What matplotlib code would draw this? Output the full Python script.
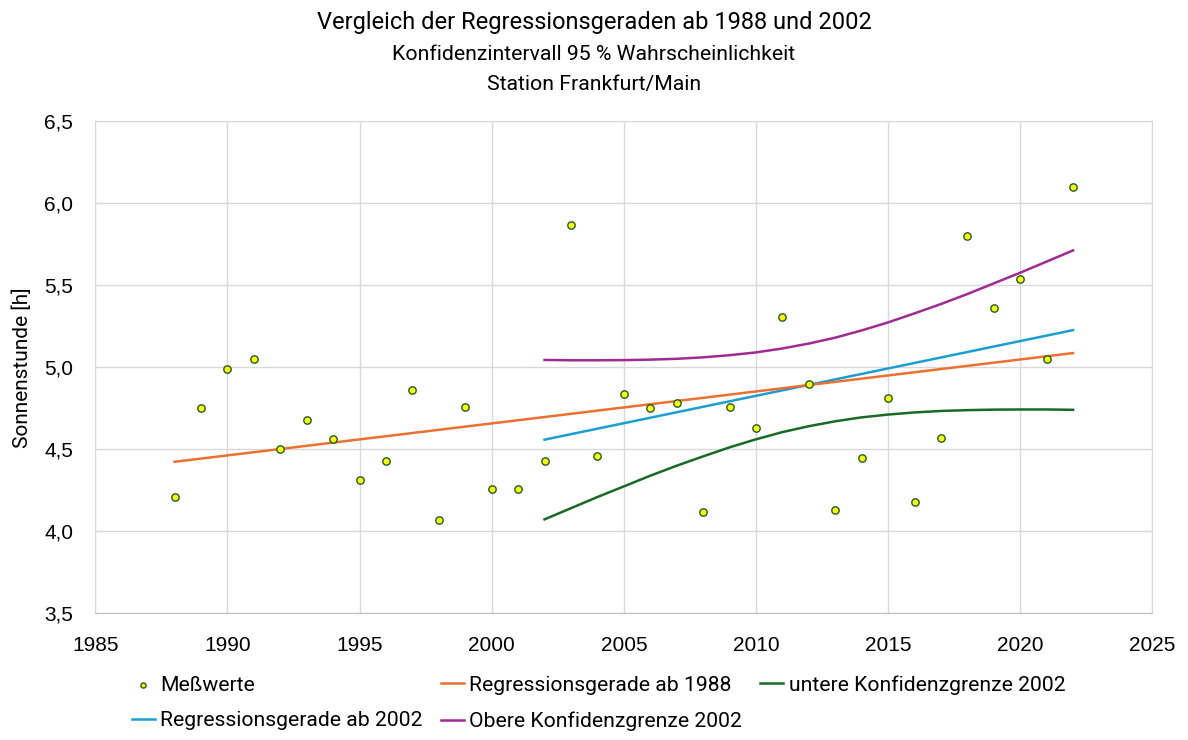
import matplotlib.pyplot as plt

# Messwerte Sonnenstunden Frankfurt/Main
jahre = list(range(1988, 2023))
messwerte = [4.21, 4.75, 4.99, 5.05, 4.50, 4.68, 4.56, 4.31, 4.43, 4.86,
             4.07, 4.76, 4.26, 4.26, 4.43, 5.87, 4.46, 4.84, 4.75, 4.78,
             4.12, 4.76, 4.63, 5.31, 4.90, 4.13, 4.45, 4.81, 4.18, 4.57,
             5.80, 5.36, 5.54, 5.05, 6.10]

# Regressionsgeraden (Endpunkte)
reg1988_x = [1988, 2022]
reg1988_y = [4.424, 5.087]
reg2002_x = [2002, 2022]
reg2002_y = [4.559, 5.227]

# Konfidenzgrenzen ab 2002
konf_jahre = list(range(2002, 2023))
obere = [5.045, 5.043, 5.043, 5.044, 5.047, 5.052, 5.061, 5.074, 5.091, 5.115,
         5.145, 5.181, 5.225, 5.274, 5.329, 5.386, 5.447, 5.512, 5.577, 5.645, 5.713]
untere = [4.073, 4.141, 4.209, 4.274, 4.339, 4.400, 4.457, 4.512, 4.561, 4.605,
          4.641, 4.671, 4.695, 4.712, 4.725, 4.734, 4.739, 4.742, 4.743, 4.743, 4.741]

titel_font = 'Roboto'
tick_font = 'Liberation Sans'

fig = plt.figure(figsize=(11.88, 7.4), dpi=100)
ax = fig.add_axes([0.0802, 0.1712, 0.8898, 0.6648])

ax.scatter(jahre, messwerte, s=28, color='#ffff00', edgecolors='#1f5a2a',
           linewidths=1.0, zorder=5, label='Meßwerte')
ax.plot(reg2002_x, reg2002_y, color='#1a9fd0', lw=1.8, label='Regressionsgerade ab 2002')
ax.plot(reg1988_x, reg1988_y, color='#e97132', lw=1.8, label='Regressionsgerade ab 1988')
ax.plot(konf_jahre, obere, color='#a02b93', lw=1.8, label='Obere Konfidenzgrenze 2002')
ax.plot(konf_jahre, untere, color='#196b24', lw=1.8, label='untere Konfidenzgrenze 2002')

ax.set_xlim(1985, 2025)
ax.set_ylim(3.5, 6.5)
ax.set_xticks(range(1985, 2026, 5))
ax.set_yticks([3.5, 4.0, 4.5, 5.0, 5.5, 6.0, 6.5])
ax.set_yticklabels([f'{v:.1f}'.replace('.', ',') for v in [3.5, 4.0, 4.5, 5.0, 5.5, 6.0, 6.5]])
ax.grid(True, color='#d9d9d9', lw=1.0)
ax.set_axisbelow(True)
for s in ax.spines.values():
    s.set_color('#d9d9d9')
ax.spines['bottom'].set_color('#bfbfbf')
ax.tick_params(length=0, pad=16, labelsize=15)
for lab in ax.get_xticklabels() + ax.get_yticklabels():
    lab.set_fontfamily(tick_font)

ax.set_ylabel('Sonnenstunde [h]', fontsize=15, family=titel_font, labelpad=9)

fig.text(0.5, 0.970, 'Vergleich der Regressionsgeraden ab 1988 und 2002',
         ha='center', va='center', fontsize=17, family=titel_font)
fig.text(0.5, 0.926, 'Konfidenzintervall 95 % Wahrscheinlichkeit',
         ha='center', va='center', fontsize=15.3, family=titel_font)
fig.text(0.5, 0.886, 'Station Frankfurt/Main',
         ha='center', va='center', fontsize=15.3, family=titel_font)

fig.legend(loc='upper left', bbox_to_anchor=(0.111, 1 - 675 / 740), ncol=3,
           frameon=False, borderpad=0, borderaxespad=0, handlelength=1.1,
           handletextpad=0.25, columnspacing=0.85, labelspacing=0.8,
           prop={'family': titel_font, 'size': 15.2}, markerscale=0.7)

fig.savefig('out.png', dpi=100)
